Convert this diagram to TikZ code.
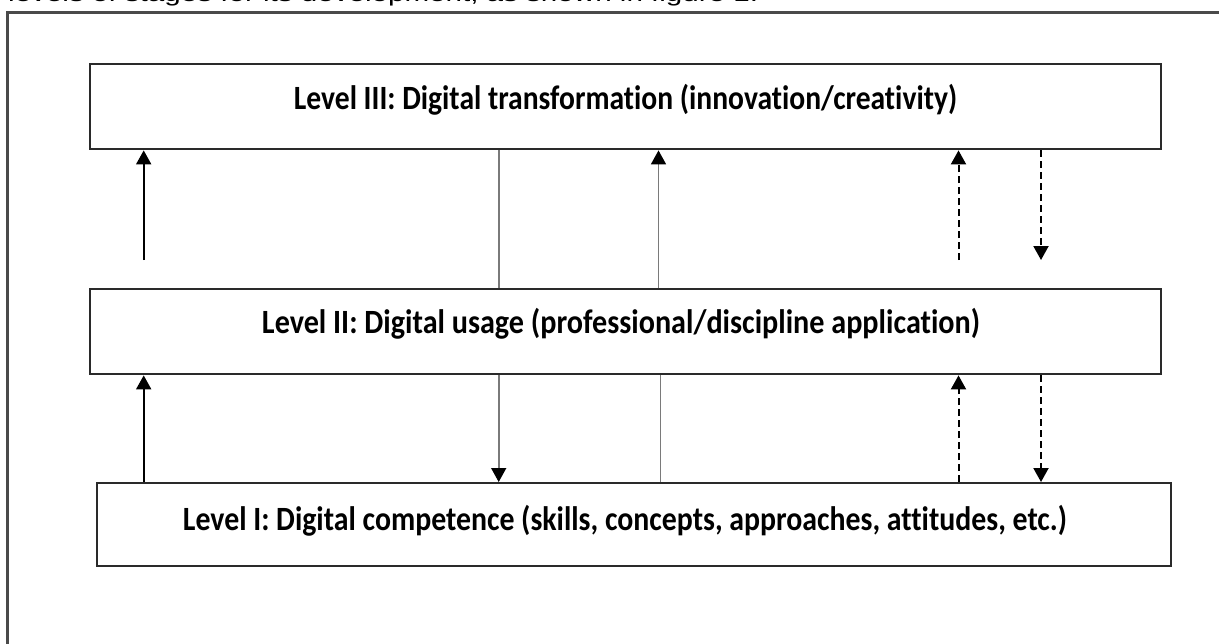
\documentclass[tikz,border=0pt]{standalone}
\usepackage{fontspec}
\setmainfont{Carlito}[Ligatures={NoCommon}, RawFeature={-liga;-dlig}]
\newfontfamily\topfont{Liberation Sans}
\usetikzlibrary{arrows.meta}
\definecolor{boxgray}{HTML}{2A2A2A}
\definecolor{framegray}{HTML}{4A4A4A}
\definecolor{linegray}{HTML}{7A7A7A}
\newcommand{\lvltext}[2]{\resizebox{#1}{\height}{\fontsize{34}{34}\selectfont\bfseries #2}}
\begin{document}
\begin{tikzpicture}[x=1pt,y=-1pt,
  levelbox/.style={draw=boxgray, line width=2.4pt, inner sep=0pt, anchor=north west, fill=white},
  lvllabel/.style={anchor=base, inner sep=0pt, text=black},
  frameline/.style={draw=framegray, line width=3pt},
  tipstyle/.style={-{Triangle[length=14pt,width=15pt,color=black]}},
  solidarrow/.style={tipstyle, draw=black, line width=2pt},
  grayline/.style={draw=linegray, line width=1.6pt},
  grayarrow/.style={grayline, tipstyle},
  dasharrow/.style={tipstyle, draw=black, line width=2pt, dash pattern=on 7pt off 4pt}]
\useasboundingbox (0,0) rectangle (1219,643);
\fill[white] (0,0) rectangle (1219,643);
\begin{scope}
  \clip (0,0) rectangle (1219,643);
  \node[anchor=base west, inner sep=0pt] (toptext) at (8,1.5)
    {\topfont\resizebox{750pt}{\height}{\fontsize{22}{22}\selectfont levels of stages for its development, as shown in figure 1.}};
  \draw[frameline] (7,660) -- (7,12) -- (1230,12);
\end{scope}
% boxes
\node[levelbox, minimum width=1071pt, minimum height=85pt] (L3) at (89,63) {};
\node[levelbox, minimum width=1071pt, minimum height=85pt] (L2) at (89,288) {};
\node[levelbox, minimum width=1074pt, minimum height=83pt] (L1) at (96,482) {};
% labels
\node[lvllabel] (T3) at (625.5,109.5) {\lvltext{663pt}{Level III: Digital transformation (innovation/creativity)}};
\node[lvllabel] (T2) at (621,333.5) {\lvltext{718pt}{Level II: Digital usage (professional/discipline application)}};
\node[lvllabel] (T1) at (625,530.5) {\lvltext{884pt}{Level I: Digital competence (skills, concepts, approaches, attitudes, etc.)}};
% free ends between level II and level III
\coordinate (s1) at (143.7,260);
\coordinate (s4) at (958.5,260);
\coordinate (s5) at (1041,260);
% between level III and level II
\draw[solidarrow] (s1) -- (s1 |- L3.south);
\draw[grayline] (498.7,0 |- L3.south) -- (498.7,0 |- L2.north);
\draw[grayarrow] (658.5,0 |- L2.north) -- (658.5,0 |- L3.south);
\draw[dasharrow] (s4) -- (s4 |- L3.south);
\draw[dasharrow] (s5 |- L3.south) -- (s5);
% between level II and level I
\coordinate (c1) at (143.7,0);
\coordinate (c2) at (498.7,0);
\coordinate (c3) at (660.3,0);
\coordinate (c4) at (958.5,0);
\coordinate (c5) at (1041,0);
\draw[solidarrow] (c1 |- L1.north) -- (c1 |- L2.south);
\draw[grayarrow] (c2 |- L2.south) -- (c2 |- L1.north);
\draw[grayline] (c3 |- L1.north) -- (c3 |- L2.south);
\draw[dasharrow] (c4 |- L1.north) -- (c4 |- L2.south);
\draw[dasharrow] (c5 |- L2.south) -- (c5 |- L1.north);
\end{tikzpicture}
\end{document}
